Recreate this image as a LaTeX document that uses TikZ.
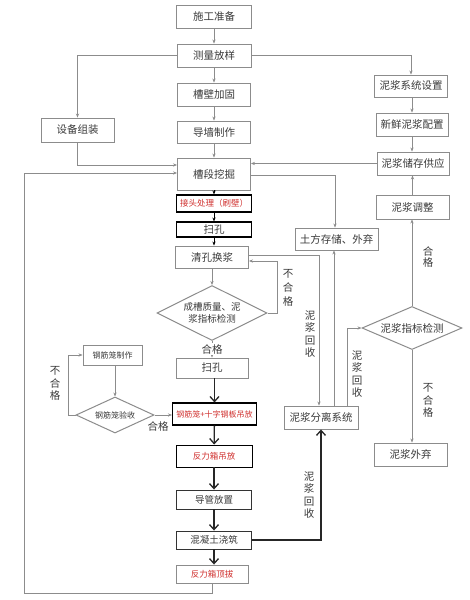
\documentclass[tikz,border=0pt]{standalone}
\usepackage{fontspec}
\setmainfont{Noto Sans CJK SC}
\usetikzlibrary{arrows.meta,shapes.geometric}
\definecolor{ln}{HTML}{8C8C8C}
\definecolor{tx}{HTML}{3A3A3A}
\definecolor{rd}{HTML}{D0302E}
\begin{document}
\begin{tikzpicture}[x=1pt,y=-1pt,
  box/.style={draw=ln,line width=0.9pt,fill=white,inner sep=0pt,text=tx,font=\fontsize{10.5}{12}\selectfont},
  bbox/.style={box,draw=black,line width=1.1pt},
  sm/.style={font=\fontsize{8}{9}\selectfont},
  red/.style={text=rd},
  ga/.style={draw=ln,line width=0.9pt,-{Stealth[length=4pt,width=3.2pt]}},
  ba/.style={draw=black,line width=0.9pt,-{Stealth[length=4pt,width=3.2pt]}},
  ka/.style={draw=black!85,line width=1.3pt,-{Straight Barb[length=5pt,width=9pt]}},
  lab/.style={text=tx,font=\fontsize{10.5}{12.5}\selectfont,inner sep=0pt,align=center},
  dia/.style={diamond,draw=ln,line width=1pt,fill=white,inner sep=0pt,text=tx,align=center}
]
\fill[white] (0,0) rectangle (469,600);
\useasboundingbox (0,0) rectangle (469,600);

% main column
\node[box,minimum width=75pt,minimum height=23pt] (shigong) at (214,16.5) {施工准备};
\node[box,minimum width=74pt,minimum height=23pt] (celiang) at (214,55.5) {测量放样};
\node[box,minimum width=73pt,minimum height=23pt] (caobi) at (214,94.5) {槽壁加固};
\node[box,minimum width=73pt,minimum height=22pt] (daoqiang) at (214,132) {导墙制作};
\node[box,minimum width=73pt,minimum height=32pt] (caoduan) at (214,174) {槽段挖掘};
\node[bbox,red,font=\fontsize{8.5}{10}\selectfont,minimum width=75pt,minimum height=17pt] (jietou) at (214,203.5) {接头处理（刷壁）};
\node[bbox,minimum width=75pt,minimum height=15pt] (sao1) at (214,229.5) {扫孔};
\node[box,minimum width=73pt,minimum height=22pt] (qingkong) at (212,257) {清孔换浆};
\node[dia,aspect=2,minimum width=110pt,minimum height=55pt,font=\fontsize{9.5}{12}\selectfont] (d1) at (212,313) {成槽质量、泥\\浆指标检测};
\node[box,minimum width=72pt,minimum height=20pt] (sao2) at (212,368) {扫孔};
\node[bbox,red,sm,minimum width=84pt,minimum height=22pt] (gangjin) at (214.5,414) {钢筋笼+十字钢板吊放};
\node[box,red,sm,font=\fontsize{8.5}{10}\selectfont,minimum width=76pt,minimum height=22pt,draw=black] (fanli1) at (214,456) {反力箱吊放};
\node[box,draw=black!80,font=\fontsize{9.5}{11}\selectfont,minimum width=75pt,minimum height=19pt] (daoguan) at (214,499.5) {导管放置};
\node[box,draw=black!80,font=\fontsize{9.5}{11}\selectfont,minimum width=75pt,minimum height=18pt] (hunning) at (214,540) {混凝土浇筑};
\node[box,red,font=\fontsize{8.5}{10}\selectfont,minimum width=72pt,minimum height=18pt] (fanli2) at (212,574) {反力箱顶拔};

% left
\node[box,minimum width=73pt,minimum height=24pt] (shebei) at (77.5,130) {设备组装};
\node[box,sm,minimum width=59pt,minimum height=20pt] (gjzz) at (112.5,355) {钢筋笼制作};
\node[dia,aspect=2.2,minimum width=78pt,minimum height=36pt,font=\fontsize{8}{9}\selectfont] (gjys) at (115,415) {钢筋笼验收};

% right
\node[box,minimum width=73pt,minimum height=22pt] (njxt) at (411,86) {泥浆系统设置};
\node[box,minimum width=72pt,minimum height=23pt] (xxpz) at (412,124.5) {新鲜泥浆配置};
\node[box,minimum width=72pt,minimum height=23pt] (cc) at (413,163.5) {泥浆储存供应};
\node[box,minimum width=73pt,minimum height=24pt] (tz) at (412.5,207) {泥浆调整};
\node[box,minimum width=83pt,minimum height=22pt] (tufang) at (336.5,239) {土方存储、外弃};
\node[box,minimum width=74pt,minimum height=23pt] (fenli) at (321,417.5) {泥浆分离系统};
\node[dia,aspect=2.3,minimum width=100pt,minimum height=43pt,font=\fontsize{10.5}{12}\selectfont] (d2) at (412,328) {泥浆指标检测};
\node[box,minimum width=73pt,minimum height=23pt] (waiqi) at (410.5,454.5) {泥浆外弃};

% main column connectors
\draw[ga] (shigong) -- (celiang);
\draw[ga] (celiang) -- (caobi);
\draw[ga] (caobi) -- (daoqiang);
\draw[ga] (daoqiang) -- (caoduan);
\draw[ba] (caoduan) -- (jietou);
\draw[ba] (jietou) -- (sao1);
\draw[ba] (sao1.south) -- (sao1.south |- qingkong.north);
\draw[ga] (qingkong.south) -- (qingkong.south |- d1.north);
\draw[ga] (d1.south) -- (d1.south |- sao2.north);
\node[lab,fill=white,inner sep=1pt] (hg1) at (212,349) {合格};
\draw[ka] (sao2.south -| gangjin) -- (gangjin.north);
\draw[ka] (gangjin) -- (fanli1);
\draw[ka] (fanli1) -- (daoguan);
\draw[ka] (daoguan) -- (hunning);
\draw[ka] (hunning.south) -- (hunning.south |- fanli2.north);

% left connectors
\draw[ga] (celiang.west) -| (shebei.north);
\coordinate (c1) at (caoduan.west |- 0,165);
\draw[ga] (shebei.south) |- (c1);
\coordinate (b1) at (212,593);
\coordinate (b2) at (24,593);
\coordinate (c2) at (caoduan.west |- 0,173);
\draw[ga] (fanli2.south) -- (b1) -- (b2) |- (c2);

% rebar loop
\draw[ga] (gjzz.south -| gjys.north) -- (gjys.north);
\coordinate (g1) at (68,415);
\draw[ga] (gjys.west) -- (g1) |- (gjzz.west);
\node[lab] (bhg2) at (55,383.5) {不\\合\\格};
\draw[ga] (gjys.east) -- (gjys.east -| gangjin.west);
\node[lab] (hg2) at (158,426) {合格};

% right connectors
\draw[ga] (celiang.east) -| (njxt.north);
\draw[ga] (njxt.south -| xxpz.north) -- (xxpz.north);
\draw[ga] (xxpz.south) -- (xxpz.south |- cc.north);
\draw[ga] (cc.west) -- (cc.west -| caoduan.east);
\coordinate (t1) at (335,175);
\draw[ga] (caoduan.east |- t1) -- (t1) -- (t1 |- tufang.north);
\draw[ga] (tz.north) -- (tz.north |- cc.south);
\draw[ga] (d2.north) -- (d2.north |- tz.south);
\node[lab,font=\fontsize{10.5}{11}\selectfont] (hg3) at (428,257) {合\\格};
\draw[ga] (d2.south) -- (d2.south |- waiqi.north);
\node[lab] (bhg3) at (428,400.5) {不\\合\\格};

% diamond 1 loop
\coordinate (q1) at (277,313);
\coordinate (q2) at (qingkong.east |- 0,261);
\draw[ga] (d1.east) -- (q1) |- (q2);
\node[lab,font=\fontsize{10.5}{14}\selectfont] (bhg1) at (288,288) {不\\合\\格};

% mud recovery
\coordinate (r1) at (319,255);
\draw[ga] (qingkong.east |- r1) -- (r1) -- (r1 |- fenli.north);
\node[lab] (nh1) at (310,334) {泥\\浆\\回\\收};
\coordinate (r2) at (334,0);
\draw[ga] (r2 |- fenli.north) -- (r2 |- tufang.south);
\coordinate (r3) at (347,0);
\draw[ga] (r3 |- fenli.north) -- (r3 |- d2.west) -- (d2.west);
\node[lab] (nh2) at (357,374) {泥\\浆\\回\\收};
\coordinate (r4) at (321,0);
\draw[ka] (hunning.east) -| (fenli.south);
\node[lab] (nh3) at (309,495) {泥\\浆\\回\\收};
\end{tikzpicture}
\end{document}
